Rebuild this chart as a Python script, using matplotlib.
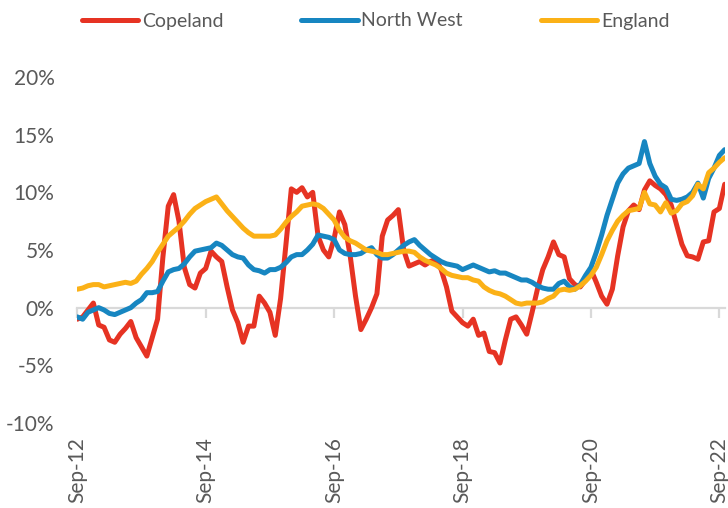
import matplotlib
matplotlib.use("Agg")
import matplotlib.pyplot as plt
import numpy as np
import pandas as pd

plt.rcParams['font.family'] = ['Lato', 'DejaVu Sans']

# Monthly annual % change, Sep-2012 .. Oct-2022
months = pd.date_range("2012-09-01", "2022-10-01", freq="MS")

copeland = [
    -1.0, -0.8, -0.2, 0.4, -1.5, -1.7, -2.8, -3.0, -2.3, -1.8,
    -1.2, -2.6, -3.4, -4.2, -2.6, -1.0, 4.4, 8.8, 9.8, 7.5,
    3.5, 2.0, 1.7, 3.0, 3.4, 4.9, 4.4, 4.0, 1.8, -0.2,
    -1.3, -3.0, -1.6, -1.6, 1.0, 0.4, -0.4, -2.4, 0.8, 5.5,
    10.3, 10.0, 10.4, 9.6, 10.0, 6.2, 5.0, 4.4, 6.0, 8.3,
    7.2, 4.5, 1.0, -1.9, -1.0, 0.0, 1.2, 6.2, 7.6, 8.0,
    8.5, 5.0, 3.6, 3.8, 4.0, 3.7, 4.0, 4.2, 3.3, 1.8,
    -0.3, -0.8, -1.3, -1.6, -1.0, -2.4, -2.2, -3.8, -3.9, -4.8,
    -2.8, -1.0, -0.8, -1.5, -2.3, -0.4, 1.6, 3.3, 4.4, 5.7,
    4.6, 4.4, 2.5, 2.0, 1.8, 2.4, 3.3, 2.2, 1.0, 0.3,
    1.6, 4.5, 7.0, 8.4, 8.9, 8.5, 10.2, 11.0, 10.6, 10.3,
    9.8, 8.9, 7.2, 5.5, 4.5, 4.4, 4.2, 5.7, 5.8, 8.3,
    8.6, 10.7,
]

north_west = [
    -0.8, -1.0, -0.4, -0.2, 0.0, -0.2, -0.5, -0.6, -0.4, -0.2,
    0.0, 0.4, 0.7, 1.3, 1.3, 1.4, 2.3, 3.1, 3.3, 3.4,
    3.8, 4.4, 4.9, 5.0, 5.1, 5.2, 5.6, 5.4, 5.0, 4.6,
    4.4, 4.3, 3.7, 3.3, 3.2, 3.0, 3.3, 3.3, 3.5, 3.9,
    4.4, 4.6, 4.6, 5.0, 5.5, 6.3, 6.2, 6.1, 5.9, 5.0,
    4.7, 4.6, 4.6, 4.7, 5.0, 5.2, 4.6, 4.3, 4.3, 4.6,
    5.0, 5.4, 5.7, 5.9, 5.4, 5.0, 4.6, 4.3, 4.0, 3.8,
    3.7, 3.6, 3.3, 3.5, 3.7, 3.5, 3.3, 3.1, 3.2, 3.0,
    3.0, 2.8, 2.6, 2.4, 2.4, 2.2, 1.9, 1.7, 1.6, 1.6,
    2.1, 2.3, 1.8, 1.6, 2.0, 2.8, 3.5, 4.8, 6.3, 8.0,
    9.4, 10.8, 11.6, 12.1, 12.3, 12.5, 14.4, 12.5, 11.4, 10.7,
    10.4, 9.4, 9.3, 9.4, 9.6, 10.0, 10.8, 9.5, 11.2, 12.1,
    13.2, 13.7,
]

england = [
    1.6, 1.7, 1.9, 2.0, 2.0, 1.8, 1.9, 2.0, 2.1, 2.2,
    2.1, 2.3, 2.9, 3.4, 4.0, 4.8, 5.5, 6.2, 6.6, 7.0,
    7.5, 8.1, 8.6, 8.9, 9.2, 9.4, 9.6, 9.0, 8.4, 7.9,
    7.4, 6.9, 6.5, 6.2, 6.2, 6.2, 6.2, 6.3, 6.8, 7.4,
    7.9, 8.3, 8.8, 8.9, 9.0, 8.9, 8.6, 8.1, 7.6, 6.7,
    6.1, 5.8, 5.6, 5.3, 5.0, 4.9, 4.8, 4.6, 4.6, 4.7,
    4.8, 4.9, 4.9, 4.8, 4.4, 4.1, 3.9, 3.7, 3.4, 3.0,
    2.8, 2.7, 2.6, 2.6, 2.4, 2.3, 1.8, 1.5, 1.3, 1.2,
    1.0, 0.7, 0.4, 0.3, 0.4, 0.4, 0.4, 0.5, 0.8, 1.0,
    1.5, 1.6, 1.5, 1.6, 1.9, 2.3, 2.8, 3.5, 4.6, 5.8,
    6.7, 7.5, 8.0, 8.4, 8.5, 8.6, 10.0, 9.0, 8.9, 8.3,
    9.1, 8.2, 8.4, 9.0, 9.2, 9.7, 10.7, 10.3, 11.7, 12.1,
    12.6, 13.0,
]

series_names = ["Copeland", "North West", "England"]
series_colors = ["#E63323", "#1786C1", "#FBB117"]
y_ticks = [-10, -5, 0, 5, 10, 15, 20]
x_tick_labels = ["Sep-12", "Sep-14", "Sep-16", "Sep-18", "Sep-20", "Sep-22"]

text_color = "#595959"
grid_color = "#D9D9D9"

fig = plt.figure(figsize=(7.28, 5.08), dpi=100)
ax = fig.add_axes([77.3 / 728, 1 - 423 / 508, (724.7 - 77.3) / 728, (423 - 77) / 508])

xs = np.arange(len(months))
for vals, name, col in zip([copeland, north_west, england], series_names, series_colors):
    ax.plot(xs, vals, color=col, lw=3.6, label=name, solid_joinstyle="round",
            solid_capstyle="round")

ax.set_xlim(0, len(months) - 1)
ax.set_ylim(-10, 20)
ax.set_yticks(y_ticks)
ax.set_yticklabels([f"{v}%" for v in y_ticks])
ax.tick_params(axis="y", length=0, pad=16.5, labelsize=15, labelcolor=text_color)

for s in ["top", "right", "left"]:
    ax.spines[s].set_visible(False)
ax.spines["bottom"].set_position(("data", 0))
ax.spines["bottom"].set_color(grid_color)
ax.spines["bottom"].set_linewidth(1.6)
ax.spines["bottom"].set_zorder(0)

tick_pos = [i for i, m in enumerate(months) if m.month == 9 and m.year % 2 == 0]
ax.set_xticks(tick_pos)
ax.tick_params(axis="x", length=7, width=1.6, color=grid_color, labelbottom=False)

sec = ax.secondary_xaxis(0)
sec.set_xticks(tick_pos)
sec.set_xticklabels(x_tick_labels, rotation=90)
sec.tick_params(axis="x", length=0, pad=10, labelsize=15, labelcolor=text_color)
sec.spines["bottom"].set_visible(False)

leg = fig.legend(loc="center", bbox_to_anchor=(375.5 / 728, 1 - 21 / 508), ncol=3, frameon=False,
                 handlelength=2.9, handletextpad=0.2, columnspacing=4.0,
                 fontsize=14, borderpad=0, borderaxespad=0)
for t in leg.get_texts():
    t.set_color(text_color)
for h in leg.get_lines():
    h.set_linewidth(3.6)
    h.set_solid_capstyle("round")

fig.savefig("out.png", dpi=100)
